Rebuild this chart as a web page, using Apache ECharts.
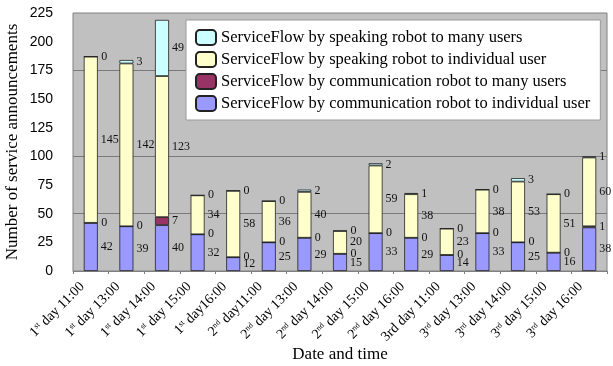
<!DOCTYPE html>
<html>
<head>
<meta charset="utf-8">
<script src="https://cdn.jsdelivr.net/npm/echarts@6/dist/echarts.min.js"></script>
<style>
  html, body { margin: 0; padding: 0; background: #fff; }
  #chart { width: 613px; height: 366px; }
</style>
</head>
<body>
<div id="chart"></div>
<script>
// categories: [day number, suffix, rest of label]
const categories = [
    ['1', 'st', ' day 11:00'], ['1', 'st', ' day 13:00'], ['1', 'st', ' day 14:00'],
    ['1', 'st', ' day 15:00'], ['1', 'st', ' day16:00'],
    ['2', 'nd', ' day11:00'], ['2', 'nd', ' day 13:00'], ['2', 'nd', ' day 14:00'],
    ['2', 'nd', ' day 15:00'], ['2', 'nd', ' day 16:00'],
    ['3rd day 11:00', '', ''],
    ['3', 'rd', ' day 13:00'], ['3', 'rd', ' day 14:00'], ['3', 'rd', ' day 15:00'], ['3', 'rd', ' day 16:00']
];
const commIndividual = [42, 39, 40, 32, 12, 25, 29, 15, 33, 29, 14, 33, 25, 16, 38];
const commMany       = [0, 0, 7, 0, 0, 0, 0, 0, 0, 0, 0, 0, 0, 0, 1];
const speakIndividual = [145, 142, 123, 34, 58, 36, 40, 20, 59, 38, 23, 38, 53, 51, 60];
const speakMany      = [0, 3, 49, 0, 0, 0, 2, 0, 2, 1, 0, 0, 3, 0, 1];
const yTicks = [0, 225, 25]; // min, max, interval
const gridLines = [50, 100, 175]; // horizontal lines seen in the plot

const serif = '"Liberation Serif", "DejaVu Serif", serif';

function makeSeries(name, data, color) {
    return {
        name: name,
        type: 'bar',
        stack: 'total',
        data: data,
        barWidth: 14,
        itemStyle: { color: color, borderColor: '#222', borderWidth: 0.8 },
        label: {
            show: true,
            position: 'right',
            distance: 3,
            color: '#111',
            fontFamily: serif,
            fontSize: 12
        }
    };
}

const series = [
    makeSeries('ServiceFlow by communication robot to individual user', commIndividual, '#9999ff'),
    makeSeries('ServiceFlow by communication robot to many users', commMany, '#993366'),
    makeSeries('ServiceFlow by speaking robot to individual user', speakIndividual, '#ffffcc'),
    makeSeries('ServiceFlow by speaking robot to many users', speakMany, '#ccffff')
];
// 背景横线放在第一组柱子下面
series[0].markLine = {
    silent: true,
    z: 1,
    symbol: 'none',
    label: { show: false },
    lineStyle: { color: '#7a7a7a', width: 1, type: 'solid' },
    data: gridLines.map(v => ({ yAxis: v }))
};

const chart = echarts.init(document.getElementById('chart'));
chart.setOption({
    animation: false,
    backgroundColor: '#fff',
    grid: {
        left: 73, right: 6, top: 13, bottom: 95,
        outerBoundsMode: 'none',
        containLabel: false,
        show: true,
        backgroundColor: '#c0c0c0',
        borderColor: '#808080',
        borderWidth: 1
    },
    legend: {
        orient: 'vertical',
        left: 186, top: 20,
        width: 416,
        padding: [9, 10, 8, 9],
        backgroundColor: '#fff',
        borderColor: '#999',
        borderWidth: 1,
        itemWidth: 20, itemHeight: 15,
        itemGap: 5,
        data: [
            'ServiceFlow by speaking robot to many users',
            'ServiceFlow by speaking robot to individual user',
            'ServiceFlow by communication robot to many users',
            'ServiceFlow by communication robot to individual user'
        ],
        textStyle: { fontFamily: serif, fontSize: 16.5, color: '#000', width: 385 }
    },
    xAxis: {
        type: 'category',
        data: categories.map(c => c.join('')),
        name: 'Date and time',
        nameLocation: 'middle',
        nameGap: 75,
        nameMoveOverlap: false,
        nameTextStyle: { fontFamily: serif, fontSize: 17, color: '#000' },
        axisLine: { lineStyle: { color: '#808080' } },
        axisTick: { show: true, length: 3, lineStyle: { color: '#808080' } },
        axisLabel: {
            interval: 0,
            rotate: 45,
            margin: 5,
            padding: [0, 12, 0, 0],
            formatter: function (v, i) {
                const c = categories[i];
                if (!c[1]) return '{n|' + c[0] + '}';
                return '{n|' + c[0] + '}{s|' + c[1] + '}{n|' + c[2] + '}';
            },
            rich: {
                n: { fontFamily: serif, fontSize: 14, color: '#000' },
                s: { fontFamily: serif, fontSize: 8, color: '#000', verticalAlign: 'top', padding: [0, 0, 6, 0] }
            }
        }
    },
    yAxis: {
        type: 'value',
        min: yTicks[0], max: yTicks[1], interval: yTicks[2],
        name: 'Number of service announcements',
        nameLocation: 'middle',
        nameGap: 52,
        nameMoveOverlap: false,
        nameTextStyle: { fontFamily: serif, fontSize: 17, color: '#000' },
        axisLine: { show: false },
        axisTick: { show: false },
        splitLine: { show: false },
        axisLabel: { fontFamily: '"Liberation Sans", Arial, sans-serif', fontSize: 14, color: '#000', margin: 20 }
    },
    series: series
});
</script>
</body>
</html>
